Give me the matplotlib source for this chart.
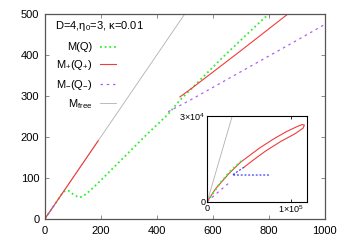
import matplotlib
matplotlib.use("Agg")
import matplotlib.pyplot as plt

plt.rcParams["font.family"] = ["Liberation Sans", "DejaVu Sans"]
plt.rcParams["mathtext.default"] = "regular"
plt.rcParams["font.size"] = 8

# main panel: M vs Q
q_free = [0, 500]
m_free = [0, 500]

q_green = [0, 65, 75, 85, 100, 120, 135, 150, 173, 200, 250, 300, 363, 440, 482, 542, 637, 756, 813]
m_green = [0, 65, 69, 68, 60, 52, 54, 62, 76, 94, 128, 162, 205, 255, 289, 330, 395, 472, 508]

q_red1 = [0, 190]
m_red1 = [0, 190]
q_red2 = [482, 524, 700, 869]
m_red2 = [297, 318, 410, 500]

q_purple1 = [0, 40]
m_purple1 = [0, 40]
q_purple2 = [440, 518, 905, 1000]
m_purple2 = [261, 289, 437, 474]

# inset: large-Q branches
iq_free = [0, 40000]
im_free = [0, 40000]

iq_red = [0, 10000, 26000, 40000, 63000, 80000, 95000, 108000, 114000, 116500,
          115000, 105000, 89000, 70000, 55000, 44000]
im_red = [0, 4500, 9800, 13800, 18800, 22000, 24500, 26300, 27000, 26800,
          25700, 23700, 21200, 17700, 14500, 12000]

iq_green = [0, 15000, 27000, 41000]
im_green = [0, 6300, 10500, 14200]

iq_purple = [0, 15000, 28000]
im_purple = [0, 3800, 7000]

iq_blue = [44000, 30000, 76000]
im_blue = [12000, 9300, 9300]

labels = ["M(Q)", "M$_{{+}}$(Q$_{{+}}$)", "M$_{{-}}$(Q$_{{-}}$)", "M$_{free}$"]

GREEN = "#2ef02e"
RED = "#f03c3c"
PURPLE = "#b060f0"
GRAY = "#b0b0b0"
BLUE = "#3a3aff"

fig = plt.figure(figsize=(3.46, 2.42), dpi=100)
ax = fig.add_axes([0.130, 0.0963, 0.809, 0.847])

ax.plot(q_green, m_green, color=GREEN, linestyle=(0, (1, 1.6)), linewidth=1.3, label=labels[0])
ax.plot(q_red2, m_red2, color=RED, linewidth=0.8, label=labels[1])
ax.plot(q_purple2, m_purple2, color=PURPLE, linestyle=(0, (2, 3)), linewidth=0.9, label=labels[2])
ax.plot(q_free, m_free, color=GRAY, linewidth=0.6, label=labels[3])
ax.plot(q_red1, m_red1, color=RED, linewidth=0.8)
ax.plot(q_purple1, m_purple1, color=PURPLE, linestyle=(0, (2, 3)), linewidth=0.9)

ax.set_xlim(0, 1000)
ax.set_ylim(0, 500)
ax.set_xticks([0, 200, 400, 600, 800, 1000])
ax.set_yticks([0, 100, 200, 300, 400, 500])
ax.tick_params(direction="in", length=3, width=0.6, color="#777777",
               top=True, right=True)
ax.tick_params(axis="x", pad=5.5)
ax.tick_params(axis="y", pad=4)
for s in ax.spines.values():
    s.set_color("#555555")
    s.set_linewidth(0.9)

ax.text(0.035, 0.94, "D=4,η$_0$=3, κ=0.01", transform=ax.transAxes,
        ha="left", va="center")

leg = ax.legend(loc="upper right", bbox_to_anchor=(0.254, 0.86), markerfirst=False,
                frameon=False, handlelength=1.45, handletextpad=0.7,
                labelspacing=0.5, borderaxespad=0, borderpad=0)

# inset
ins = fig.add_axes([0.599, 0.167, 0.289, 0.354])
ins.plot(iq_free, im_free, color=GRAY, linewidth=0.6)
ins.plot(iq_red, im_red, color=RED, linewidth=0.8)
ins.plot(iq_green, im_green, color=GREEN, linestyle=(0, (1, 1.6)), linewidth=1.3)
ins.plot(iq_purple, im_purple, color=PURPLE, linestyle=(0, (2, 3)), linewidth=0.9)
ins.plot(iq_blue, im_blue, color=BLUE, linestyle=(0, (1.5, 1.5)), linewidth=0.9)
ins.set_xlim(0, 120000)
ins.set_ylim(0, 30000)
ins.set_xticks([0, 100000])
ins.set_xticklabels(["0", "1×10$^5$"])
ins.set_yticks([0, 30000])
ins.set_yticklabels(["0", "3×10$^4$"])
ins.tick_params(direction="in", length=2.5, width=0.6, labelsize=6.5,
                top=True, right=True, pad=1.5)
for s in ins.spines.values():
    s.set_color("black")
    s.set_linewidth(0.8)

plt.savefig("out.png", dpi=100)
plt.close()
